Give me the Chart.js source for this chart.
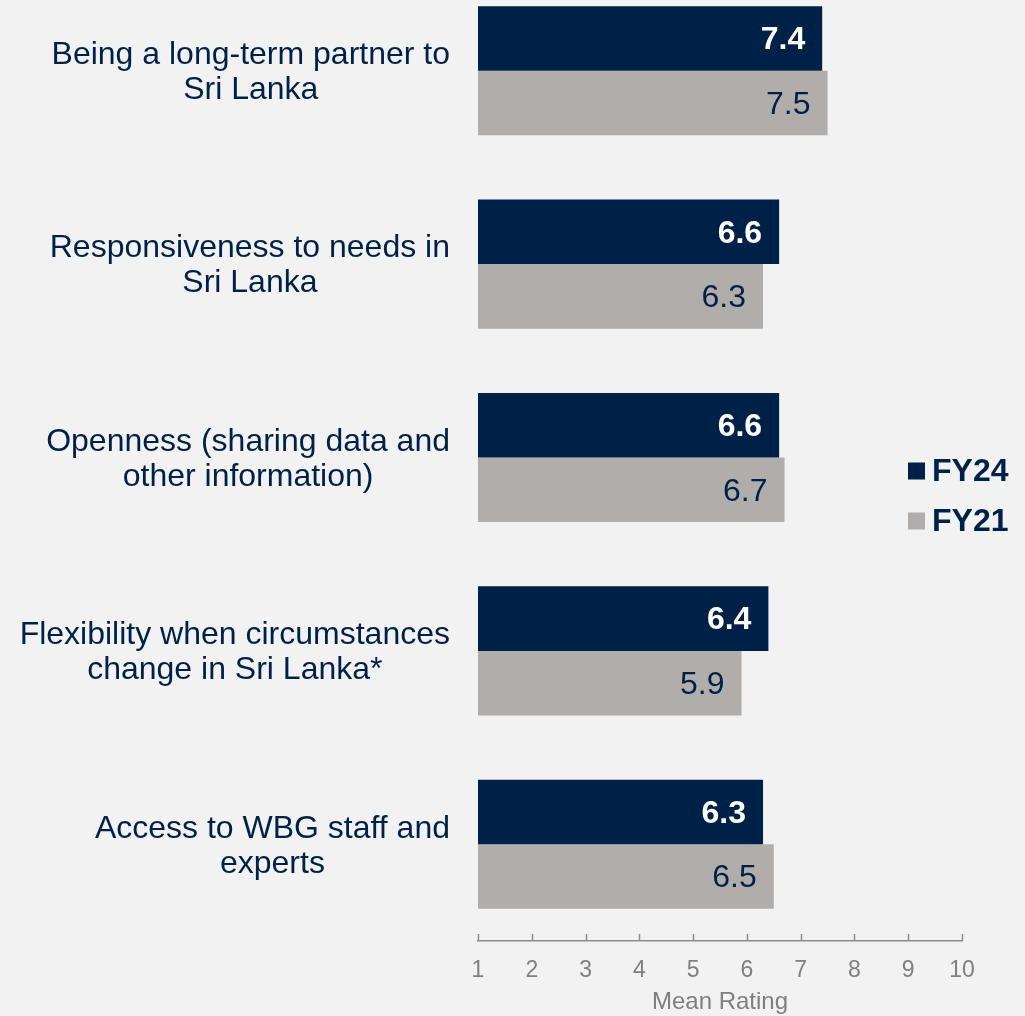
<!DOCTYPE html>
<html>
<head>
<meta charset="utf-8">
<script src="https://cdn.jsdelivr.net/npm/chart.js@4"></script>
<style>
  html, body { margin: 0; padding: 0; background: #f2f2f2; overflow: hidden; }
  #wrap { position: relative; width: 1025px; height: 1016px; overflow: hidden; }
  #chart { position: absolute; left: 0; top: -30px; }
</style>
</head>
<body>
<div id="wrap"><canvas id="chart" width="1025" height="1047"></canvas></div>
<script>
const categories = [
  ["Being a long-term partner to", "Sri Lanka"],
  ["Responsiveness to needs in", "Sri Lanka"],
  ["Openness (sharing data and", "other information)"],
  ["Flexibility when circumstances", "change in Sri Lanka*"],
  ["Access to WBG staff and", "experts"],
];
const seriesNames = ["FY24", "FY21"];
const fy24 = [7.4, 6.6, 6.6, 6.4, 6.3];
const fy21 = [7.5, 6.3, 6.7, 5.9, 6.5];
const xTicks = [1, 2, 3, 4, 5, 6, 7, 8, 9, 10];
const axisTitle = "Mean Rating";

const navy = "#002147";
const grey = "#b0adab";
const fontFamily = "'Liberation Sans', Arial, sans-serif";

// category labels, ticks pointing up, value labels and legend
const extras = {
  id: "extras",
  afterDraw(chart) {
    const ctx = chart.ctx;
    const x = chart.scales.x;
    const y = chart.scales.y;
    const area = chart.chartArea;
    ctx.save();

    // tick marks above the axis line
    ctx.strokeStyle = "#8c8c8c";
    ctx.lineWidth = 1.5;
    x.ticks.forEach((t) => {
      const px = Math.round(x.getPixelForValue(t.value)) + 0.5;
      ctx.beginPath();
      ctx.moveTo(px, area.bottom);
      ctx.lineTo(px, area.bottom - 7);
      ctx.stroke();
    });

    // category labels, centred block with right edge at 450
    ctx.font = "32px " + fontFamily;
    ctx.fillStyle = navy;
    ctx.textAlign = "center";
    ctx.textBaseline = "middle";
    const lineH = 35;
    categories.forEach((lines, i) => {
      const cy = y.getPixelForValue(i) + 2;
      const w = Math.max(...lines.map((l) => ctx.measureText(l).width));
      const cx = 450 - w / 2;
      lines.forEach((l, k) => {
        ctx.fillText(l, cx, cy + (k - (lines.length - 1) / 2) * lineH);
      });
    });

    // values inside the bar ends
    ctx.textAlign = "right";
    chart.data.datasets.forEach((ds, di) => {
      const meta = chart.getDatasetMeta(di);
      ctx.font = (di === 0 ? "bold " : "") + "32px " + fontFamily;
      ctx.fillStyle = di === 0 ? "#ffffff" : navy;
      meta.data.forEach((bar, j) => {
        ctx.fillText(ds.data[j].toFixed(1), bar.x - 17, bar.y + 2);
      });
    });

    // legend
    ctx.textAlign = "left";
    ctx.font = "bold 32px " + fontFamily;
    chart.data.datasets.forEach((ds, di) => {
      const ly = 501 + di * 50;
      ctx.fillStyle = ds.backgroundColor;
      ctx.fillRect(908, ly - 8.5, 17, 17);
      ctx.fillStyle = navy;
      ctx.fillText(ds.label, 932, ly + 1);
    });

    ctx.restore();
  },
};

new Chart(document.getElementById("chart"), {
  type: "bar",
  data: {
    labels: categories,
    datasets: [
      { label: seriesNames[0], data: fy24, backgroundColor: navy, categoryPercentage: 0.6675, barPercentage: 1 },
      { label: seriesNames[1], data: fy21, backgroundColor: grey, categoryPercentage: 0.6675, barPercentage: 1 },
    ],
  },
  options: {
    indexAxis: "y",
    responsive: false,
    animation: false,
    layout: { padding: { left: 478, right: 63, top: 4, bottom: 0 } },
    plugins: {
      legend: { display: false },
      tooltip: { enabled: false },
    },
    scales: {
      y: {
        display: false,
      },
      x: {
        min: 1,
        max: 10,
        afterBuildTicks: (scale) => {
          scale.ticks = xTicks.map((v) => ({ value: v }));
        },
        afterFit: (scale) => {
          scale.height = 76;
        },
        grid: { display: true, drawOnChartArea: false, drawTicks: false },
        border: { display: true, color: "#8c8c8c", width: 1.5 },
        ticks: {
          color: "#7f7f7f",
          padding: 16,
          font: { family: fontFamily, size: 23 },
        },
        title: {
          display: true,
          text: axisTitle,
          color: "#7f7f7f",
          padding: { top: 0, bottom: 0 },
          font: { family: fontFamily, size: 24 },
        },
      },
    },
  },
  plugins: [extras],
});
</script>
</body>
</html>
